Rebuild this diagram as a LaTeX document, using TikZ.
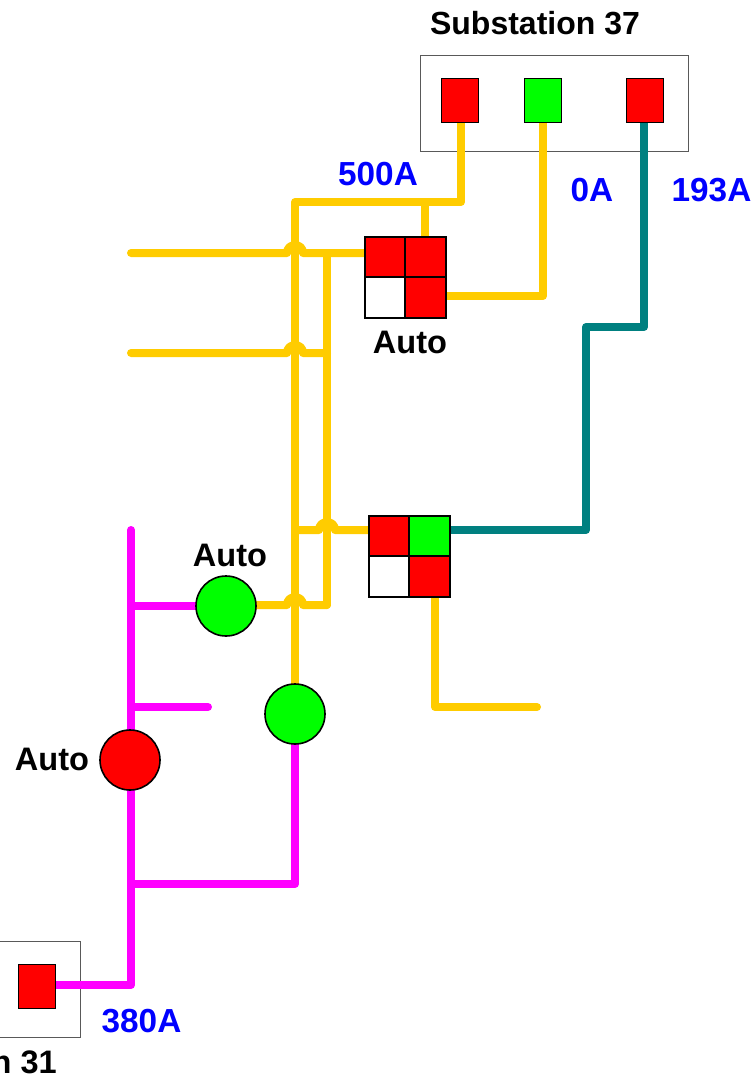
\documentclass[tikz,border=0pt]{standalone}
\usepackage{fontspec}
\setmainfont{Liberation Sans}
\definecolor{busy}{RGB}{255,204,0}
\definecolor{busm}{RGB}{255,0,255}
\definecolor{bust}{RGB}{0,128,128}
\begin{document}
\begin{tikzpicture}[x=0.75pt,y=-0.75pt,
  lbl/.style={font=\fontsize{24.4pt}{28pt}\selectfont\bfseries,text=black,inner sep=0pt},
  amp/.style={lbl,font=\fontsize{25pt}{28pt}\selectfont\bfseries,text=blue},
  yline/.style={draw=busy,line width=6pt,line cap=round,line join=round},
  mline/.style={draw=busm,line width=6pt,line cap=round,line join=round},
  tline/.style={draw=bust,line width=6pt,line cap=round,line join=round},
  frame/.style={draw=black!65,line width=0.65pt,fill=white,minimum width=#1,inner sep=0pt,outer sep=0pt},
  sw/.style={draw=black,line width=0.7pt,fill=#1,minimum width=27.75pt,minimum height=33pt,inner sep=0pt,outer sep=0pt},
  cell/.style={draw=black,line width=1.5pt,fill=#1,minimum size=30.4pt,inner sep=0pt,outer sep=0pt},
  brk/.style={circle,draw=black,line width=1.2pt,fill=#1,minimum size=45pt,inner sep=0pt,outer sep=0pt},
  hop/.style={out=90,in=90,looseness=1.7}]
\useasboundingbox (0,0) rectangle (755,1076);
% substation frames
\node[frame=201pt,minimum height=72pt] (f37) at (554,103) {};
\node[frame=90pt,minimum height=72pt] (f31) at (20,989) {};
% free ends
\coordinate (yA) at (131,253);
\coordinate (yB) at (131,353);
\coordinate (mTop) at (131,530);
\coordinate (yEnd) at (537,707);
\coordinate (mStub) at (208,707);
% hop start and end points
\coordinate (h1a) at (287,253); \coordinate (h1b) at (303,253);
\coordinate (h2a) at (287,353); \coordinate (h2b) at (303,353);
\coordinate (h3a) at (319,530); \coordinate (h3b) at (335,530);
\coordinate (h4a) at (287,605); \coordinate (h4b) at (303,605);
% corners and tees
\coordinate (c1) at (461,202);
\coordinate (c2) at (295,202);
\coordinate (c3) at (425,202);
\coordinate (c4) at (327,253);
\coordinate (c5) at (327,605);
\coordinate (c6) at (295,530);
\coordinate (c7) at (327,353);
\coordinate (m1) at (131,606);
\coordinate (m2) at (131,707);
\coordinate (m3) at (131,884);
\coordinate (m4) at (131,985);
\coordinate (m5) at (295,884);
\coordinate (pa) at (461,100);
\coordinate (pb) at (543,100);
% yellow connectors
\draw[yline] (pa) -- (c1) -- (c2) -- (295,684) coordinate (gTop);
\draw[yline] (c3) -- (425,237) coordinate (q1top);
\draw[yline] (pb) -- (543,296) -- (446,296) coordinate (q1right);
\draw[yline] (yA) -- (h1a) to[hop] (h1b) -- (365,253) coordinate (q1left);
\draw[yline] (c4) -- (c5);
\draw[yline] (yB) -- (h2a) to[hop] (h2b) -- (c7);
\draw[yline] (c6) -- (h3a) to[hop] (h3b) -- (369,530) coordinate (q2left);
\draw[yline] (256,605) -- (h4a) to[hop] (h4b) -- (c5);
\draw[yline] (435,597) coordinate (q2bot) -- (435,707) -- (yEnd);
% teal connector
\draw[tline] (644,122) -- (644,327) -- (586,327) -- (586,530) -- (450,530);
% magenta connectors
\draw[mline] (mTop) -- (m4) -- (55,985);
\draw[mline] (m1) -- (196,606);
\draw[mline] (m2) -- (mStub);
\draw[mline] (m3) -- (m5) -- (295,745);
% upper switch group
\node[cell=red] (q1a) at (385.3,257.3) {};
\node[cell=red] (q1b) at (425.7,257.3) {};
\node[cell=white] (q1c) at (385.3,297.7) {};
\node[cell=red] (q1d) at (425.7,297.7) {};
% lower switch group
\node[cell=red] (q2a) at (389.3,536.3) {};
\node[cell=green] (q2b) at (429.7,536.3) {};
\node[cell=white] (q2c) at (389.3,576.7) {};
\node[cell=red] (q2d) at (429.7,576.7) {};
% breakers
\node[brk=green] (b1) at (226,606) {};
\node[brk=green] (b2) at (295,714) {};
\node[brk=red] (b3) at (130,760) {};
% terminal squares
\node[sw=red] (s1) at (459.5,100) {};
\node[sw=green] (s2) at (542.5,100) {};
\node[sw=red] (s3) at (644.5,100) {};
\node[sw=red] (s4) at (36.5,986) {};
% labels
\node[lbl,font=\fontsize{24pt}{28pt}\selectfont\bfseries] (t1) at (535,23) {Substation 37};
\node[lbl,anchor=east] (t2) at (57,1062) {Substation 31};
\node[amp] (t3) at (378,174) {500A};
\node[amp] (t4) at (592,190) {0A};
\node[amp] (t5) at (711.5,190) {193A};
\node[amp] (t6) at (141.5,1021) {380A};
\node[lbl] (t7) at (410,342) {Auto};
\node[lbl] (t8) at (230,555) {Auto};
\node[lbl] (t9) at (52,759) {Auto};
\end{tikzpicture}
\end{document}
